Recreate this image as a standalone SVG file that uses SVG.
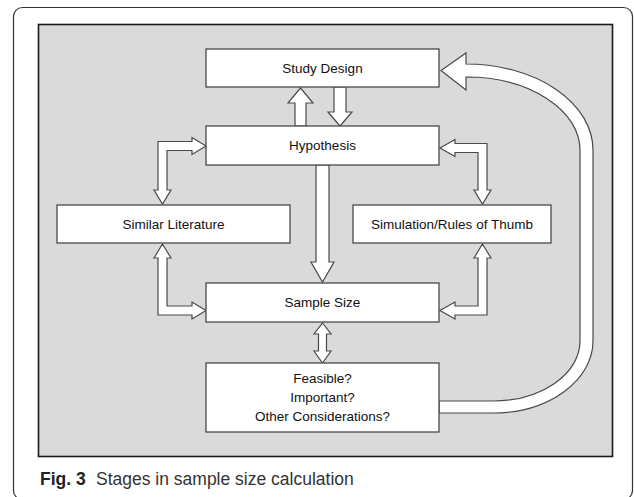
<svg xmlns="http://www.w3.org/2000/svg" width="634" height="497" viewBox="0 0 634 497">
<style>
.box{fill:#ffffff;stroke:#4a4a4a;stroke-width:1.3}
.arr{fill:#ffffff;stroke:#4a4a4a;stroke-width:1.2;stroke-linejoin:miter}
.lbl{font-family:"Liberation Sans",Arial,sans-serif;font-size:13.5px;fill:#111;text-anchor:middle}
.cap{font-family:"Liberation Sans",Arial,sans-serif;font-size:17.5px;fill:#333}
</style>
<rect x="0" y="0" width="634" height="497" fill="#ffffff"/>
<rect x="13.5" y="7.5" width="619" height="492" rx="9" ry="9" fill="#ffffff" stroke="#333" stroke-width="1.2"/>
<rect id="panel" x="38.5" y="24.5" width="574" height="432" fill="#dadada" stroke="#1a1a1a" stroke-width="1.6"/>

<g id="connectors">
  <path class="arr" d="M295,126 V103 H288 L300.5,88 L313,103 H306 V126 Z"/>
  <path class="arr" d="M334,87 V112 H328 L340,126 L352,112 H346 V87 Z"/>
  <path class="arr" d="M316,165 V262 H311 L322.5,282 L334,262 H329 V165 Z"/>
  <path class="arr" d="M206,146 L192,137.5 V141.5 H158 V190 H154 L162.5,204 L171,190 H167 V150.5 H192 V154.5 Z"/>
  <path class="arr" d="M162.5,244 L171,258 H167 V306 H192 V302 L206,310.5 L192,319 V315 H158 V258 H154 Z"/>
  <path class="arr" d="M440,148 L455,139.5 V143.5 H487 V190 H491 L482.5,204 L474,190 H478 V152.5 H455 V156.5 Z"/>
  <path class="arr" d="M482.5,244 L491,258 H487 V315 H455 V319 L440,310.5 L455,302 V306 H478 V258 H474 Z"/>
  <path class="arr" d="M322.5,323 L331,334 H326.5 V351 H331 L322.5,363 L314,351 H318.5 V334 H314 Z"/>
  <path class="arr" d="M439,413 H493 A100,72 0 0 0 593,341 V150 A127,86 0 0 0 466,64 V53 L441,70.5 L466,90 V77 A114,73 0 0 1 580,150 V341 A87,60 0 0 1 493,401 H439 Z"/>
</g>

<g id="study-design">
  <rect class="box" x="206" y="49" width="233" height="38"/>
  <text class="lbl" x="322.5" y="72.5">Study Design</text>
</g>
<g id="hypothesis">
  <rect class="box" x="206" y="126" width="233" height="39"/>
  <text class="lbl" x="322.5" y="150">Hypothesis</text>
</g>
<g id="similar-literature">
  <rect class="box" x="57" y="205" width="233" height="38"/>
  <text class="lbl" x="173.5" y="228.5">Similar Literature</text>
</g>
<g id="simulation">
  <rect class="box" x="353" y="205" width="198" height="38"/>
  <text class="lbl" x="452" y="228.5">Simulation/Rules of Thumb</text>
</g>
<g id="sample-size">
  <rect class="box" x="206" y="283" width="233" height="39"/>
  <text class="lbl" x="322.5" y="307">Sample Size</text>
</g>
<g id="feasible">
  <rect class="box" x="206" y="363" width="233" height="69"/>
  <text class="lbl" x="322.5" y="383">Feasible?</text>
  <text class="lbl" x="322.5" y="402">Important?</text>
  <text class="lbl" x="322.5" y="421">Other Considerations?</text>
</g>

<text class="cap" x="40" y="485"><tspan font-weight="bold" fill="#222">Fig. 3</tspan><tspan x="96">Stages in sample size calculation</tspan></text>
</svg>
